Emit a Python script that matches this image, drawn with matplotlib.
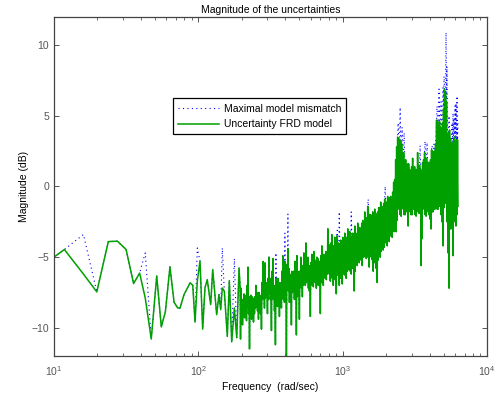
import numpy as np
import matplotlib
matplotlib.use("Agg")
import matplotlib.pyplot as plt
from matplotlib.ticker import LogLocator, NullFormatter

plt.rcParams['font.family'] = ['Liberation Sans', 'DejaVu Sans']

# low frequency part, one point per FRD sample (rad/s, dB)
freq_low = [10, 11.8, 16, 19.8, 23.8, 27.5, 31.6, 35.6, 39.2, 42.9,
            47.2, 51.5, 55.4, 59.1, 63.6, 67.9, 72.0, 74.7, 79.6, 87.7,
            91.5, 94.9, 98.4, 102.7, 107.2, 111.2, 115.3, 121.8, 125.8, 134.0,
            139.0, 142.9, 146.6, 151.4, 158.8, 164.0, 170.4, 177.7, 184.6, 191.5]
green_low = [-5.0, -4.46, -6.2, -7.46, -3.9, -3.87, -4.46, -6.87, -6.13, -7.9,
             -10.8, -6.33, -9.94, -8.88, -5.69, -8.19, -8.6, -8.6, -7.65, -6.82,
             -6.99, -9.6, -6.7, -5.28, -10.1, -7.18, -6.59, -8.36, -5.88, -9.07,
             -7.65, -8.72, -7.18, -7.41, -10.6, -6.66, -11.0, -8.6, -10.7, -5.76]

# dense part (~195 .. 6300 rad/s): upper and lower swing of the FRD curve,
# read off column by column
dense_start, dense_stop = 194.5, 6300.0
green_top = [
    -7.0, -7.2, -8.0, -8.0, -7.6, -7.7, -8.0, -7.0, -5.7, -7.8,
    -8.0, -7.7, -7.8, -8.0, -7.9, -7.8, -7.0, -7.5, -7.6, -7.5,
    -7.7, -8.0, -6.8, -5.3, -6.5, -5.4, -6.8, -7.2, -6.5, -5.0,
    -6.5, -7.6, -6.0, -5.1, -7.0, -7.8, -6.5, -6.8, -6.5, -7.0,
    -6.8, -7.0, -6.0, -4.9, -6.2, -5.3, -5.5, -5.6, -4.4, -5.8,
    -6.2, -6.5, -6.0, -6.3, -6.0, -5.3, -6.0, -4.9, -6.0, -6.2,
    -6.0, -5.0, -5.8, -5.6, -4.7, -5.5, -4.0, -5.3, -5.0, -5.8,
    -5.6, -5.4, -4.8, -5.4, -4.6, -5.2, -5.4, -5.0, -5.1, -5.3,
    -5.3, -4.9, -4.2, -5.4, -4.8, -5.2, -4.6, -4.8, -3.0, -4.1,
    -4.4, -4.0, -3.4, -4.6, -4.2, -3.6, -4.4, -3.5, -4.0, -4.0,
    -4.2, -3.8, -4.0, -3.6, -3.8, -3.3, -4.0, -3.6, -3.0, -3.4,
    -3.2, -3.6, -3.5, -3.3, -3.8, -2.8, -3.3, -3.6, -2.6, -3.2,
    -2.9, -3.0, -2.6, -2.4, -2.8, -1.8, -2.4, -2.2, -1.4, -2.2,
    -2.0, -2.0, -2.3, -1.8, -2.5, -1.6, -1.9, -2.2, -1.8, -1.5,
    -1.5, -1.1, -1.4, -1.6, -1.2, -0.9, -1.3, -1.1, -0.7, -1.0,
    -0.8, -0.7, -0.9, -0.4, 0.3, 0.5, 1.9, 2.8, 3.5, 3.4,
    3.3, 3.2, 3.0, 2.1, 2.4, 1.8, 1.9, 1.5, 1.6, 1.6,
    1.2, 1.0, 1.4, 2.0, 1.3, 1.4, 1.0, 1.2, 2.4, 1.5,
    1.5, 1.2, 1.0, 1.7, 1.9, 2.4, 2.0, 2.0, 1.6, 1.7,
    1.7, 1.9, 2.6, 2.5, 2.4, 2.5, 3.0, 4.7, 4.6, 4.5,
    4.6, 4.2, 3.8, 4.5, 5.5, 6.9, 6.6, 6.0, 3.5, 3.8,
    4.0, 3.4, 3.1, 3.0, 3.2, 3.5, 3.2, 3.3, 3.3,
]
green_bot = [
    -10.8, -9.0, -9.8, -9.0, -9.3, -8.8, -9.5, -8.5, -9.0, -11.5,
    -8.5, -9.4, -9.0, -9.6, -9.0, -8.6, -8.5, -8.8, -9.4, -8.8,
    -9.0, -10.1, -8.0, -7.5, -8.6, -7.9, -7.7, -9.0, -8.0, -7.6,
    -8.0, -10.2, -7.8, -8.0, -8.8, -11.2, -8.3, -8.5, -7.8, -9.2,
    -7.8, -8.6, -7.6, -8.0, -8.2, -7.6, -12.5, -7.0, -7.4, -8.2,
    -8.2, -9.8, -7.5, -7.2, -8.0, -7.5, -10.5, -7.8, -7.6, -9.4,
    -6.9, -7.2, -7.8, -7.0, -6.8, -7.0, -6.8, -6.5, -7.2, -7.4,
    -9.2, -6.8, -7.0, -7.1, -6.6, -6.8, -7.2, -6.5, -7.0, -6.8,
    -9.0, -6.6, -6.8, -7.0, -6.4, -6.5, -6.6, -6.2, -6.0, -6.2,
    -6.7, -6.2, -6.5, -7.0, -6.4, -6.6, -7.6, -6.0, -6.3, -7.0,
    -6.5, -6.0, -6.9, -6.2, -5.8, -6.3, -6.5, -6.0, -5.9, -5.7,
    -6.0, -6.2, -5.8, -5.6, -7.4, -6.0, -5.4, -5.6, -5.2, -5.4,
    -5.2, -5.0, -5.6, -5.0, -4.8, -5.0, -5.1, -5.0, -4.6, -5.7,
    -4.2, -5.0, -5.2, -6.0, -5.4, -4.6, -5.8, -6.8, -5.2, -4.5,
    -5.0, -4.6, -4.4, -4.5, -4.3, -4.0, -3.9, -4.2, -3.8, -3.9,
    -3.5, -3.3, -3.6, -3.0, -3.2, -3.0, -3.2, -2.4, -1.6, -1.4,
    -2.0, -2.1, -1.5, -1.6, -2.0, -2.0, -1.8, -1.5, -2.8, -1.7,
    -1.8, -2.0, -2.0, -1.6, -1.6, -2.0, -2.1, -1.8, -1.6, -1.9,
    -1.9, -5.6, -3.7, -1.6, -1.5, -2.0, -2.1, -1.8, -1.4, -2.0,
    -2.3, -3.0, -1.8, -1.8, -1.6, -1.6, -1.5, -1.6, -1.6, -1.4,
    -1.4, -2.0, -2.5, -4.2, -1.5, -1.2, -1.0, -2.5, -4.7, -7.2,
    -3.0, -3.0, -2.2, -4.9, -2.5, -2.0, -2.8, -2.0, -1.4,
]

# places where the maximal mismatch lies above the FRD uncertainty
blue_peak_freq = [16, 42.9, 98.4, 146.6, 177.7, 221, 345.6, 398.9, 418.5, 914.9,
                  944.4, 1144, 1500, 1967, 2420, 2500, 2580, 2665, 3440, 3726,
                  3845, 4165, 4300, 4440, 4511, 4658, 4790, 4964, 5043, 5207,
                  5290, 5460, 5730, 5820, 5915, 6012, 6107, 6205, 6300]
blue_peak_db = [-3.4, -4.7, -4.35, -4.35, -5.1, -5.6, -4.7, -3.3, -1.95, -3.1,
                -1.8, -1.8, -0.9, 0.0, 4.5, 5.6, 4.2, 3.8, 2.9, 3.2,
                3.1, 2.9, 3.0, 3.6, 5.7, 6.9, 6.0, 7.0, 7.8, 10.9,
                8.5, 5.0, 4.5, 5.2, 4.8, 5.7, 5.9, 6.4, 4.7]

green_dense = np.column_stack([green_top, green_bot]).ravel()
freq = np.concatenate([freq_low, np.geomspace(dense_start, dense_stop, len(green_dense))])
unc = np.concatenate([green_low, green_dense])
mism = unc.copy()
for f, v in zip(blue_peak_freq, blue_peak_db):
    i = np.argmin(np.abs(np.log10(freq) - np.log10(f)))
    mism[i] = max(v, unc[i])

tick_col = '#555555'
fig = plt.figure(figsize=(4.99, 3.94), dpi=100)
ax = fig.add_axes([0.1082, 0.0964, 0.8677, 0.8605])
ax.semilogx(freq, mism, color='#0000ff', lw=0.8, ls=(0, (1, 3)),
            label='Maximal model mismatch')
ax.semilogx(freq, unc, color='#00a000', lw=1.1, label='Uncertainty FRD model')

ax.set_xlim(10, 1e4)
ax.set_ylim(-12, 12)
ax.set_yticks([-10, -5, 0, 5, 10])
ax.xaxis.set_major_locator(LogLocator(base=10, numticks=10))
ax.xaxis.set_minor_locator(LogLocator(base=10, subs=np.arange(2, 10), numticks=20))
ax.xaxis.set_minor_formatter(NullFormatter())
ax.tick_params(which='both', direction='in', top=True, right=True,
               colors=tick_col, labelsize=7.5, labelcolor=tick_col)
ax.tick_params(which='major', length=3.5, width=0.7)
ax.tick_params(which='minor', length=2, width=0.6)
ax.tick_params(axis='x', pad=6)
for s in ax.spines.values():
    s.set_color('#444444')
    s.set_linewidth(0.9)

ax.set_title('Magnitude of the uncertainties', fontsize=7.5, pad=3)
ax.set_xlabel('Frequency  (rad/sec)', fontsize=7.5, labelpad=3)
ax.set_ylabel('Magnitude (dB)', fontsize=7.5, labelpad=2)

leg = ax.legend(loc='upper left', bbox_to_anchor=(0.2755, 0.760), borderaxespad=0,
                fontsize=7.5, fancybox=False, framealpha=1, handlelength=3.85,
                borderpad=0.5, labelspacing=0.55, handletextpad=0.5)
leg.get_frame().set_edgecolor('black')
leg.get_frame().set_linewidth(0.9)

fig.savefig('out.png', dpi=100)
